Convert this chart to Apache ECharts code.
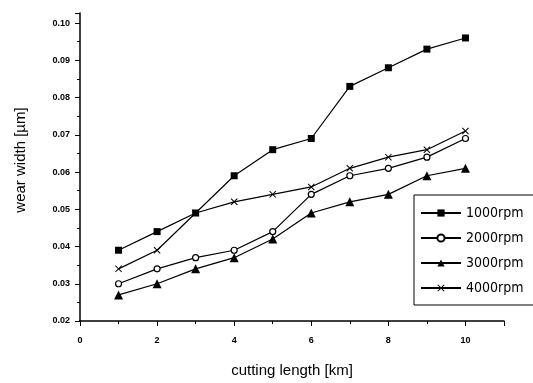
<!DOCTYPE html>
<html><head><meta charset="utf-8">
<script src="https://cdn.jsdelivr.net/npm/echarts@6/dist/echarts.min.js"></script>
<style>html,body{margin:0;padding:0;background:#fff}#c{width:533px;height:383px}</style>
</head><body><div id="c"></div>
<script>
var cuttingLength = [1, 2, 3, 4, 5, 6, 7, 8, 9, 10];
var rpm1000 = [0.039, 0.044, 0.049, 0.059, 0.066, 0.069, 0.083, 0.088, 0.093, 0.096];
var rpm2000 = [0.030, 0.034, 0.037, 0.039, 0.044, 0.054, 0.059, 0.061, 0.064, 0.069];
var rpm3000 = [0.027, 0.030, 0.034, 0.037, 0.042, 0.049, 0.052, 0.054, 0.059, 0.061];
var rpm4000 = [0.034, 0.039, 0.049, 0.052, 0.054, 0.056, 0.061, 0.064, 0.066, 0.071];
var seriesNames = ['1000rpm', '2000rpm', '3000rpm', '4000rpm'];

function pairs(ys){ return cuttingLength.map(function(x,i){ return [x, ys[i]]; }); }
var xPath = 'path://M0,1L1,0L5,4L9,0L10,1L6,5L10,9L9,10L5,6L1,10L0,9L4,5Z';
var symbols = ['rect', 'circle', 'triangle', xPath];
var sizes = [7, 6, 9, 7];
var datas = [rpm1000, rpm2000, rpm3000, rpm4000];

var chart = echarts.init(document.getElementById('c'), null, {renderer:'canvas'});
chart.setOption({
  animation: false,
  backgroundColor: '#fff',
  textStyle: {fontFamily: 'Liberation Sans'},
  grid: {left: 80, right: 29, top: 13, bottom: 61, containLabel: false},
  legend: {
    orient: 'vertical', left: 414, top: 195,
    width: 125, height: 112,
    padding: [11, 14, 10, 6], itemGap: 11,
    itemWidth: 40, itemHeight: 9,
    borderColor: '#000', borderWidth: 1,
    textStyle: {fontFamily: '"DejaVu Sans Condensed", "Liberation Sans"', fontSize: 14, color: '#000'},
    data: seriesNames
  },
  xAxis: {
    type: 'value', min: 0, max: 11, interval: 2,
    name: 'cutting length [km]', nameLocation: 'middle', nameGap: 42,
    nameTextStyle: {fontSize: 15, color: '#000'},
    axisLine: {lineStyle: {color: '#000', width: 1.5}},
    axisTick: {show: true, length: 5, lineStyle: {color: '#000'}},
    minorTick: {show: true, splitNumber: 2, length: 3, lineStyle: {color: '#000'}},
    axisLabel: {color: '#000', fontSize: 9, fontWeight: 'bold', margin: 15, showMaxLabel: false},
    splitLine: {show: false}
  },
  yAxis: {
    type: 'value', min: 0.02, max: 0.1027, interval: 0.01,
    name: 'wear width [\u00b5m]', nameLocation: 'middle', nameGap: 52,
    nameTextStyle: {fontSize: 15, color: '#000', padding: [0, 0, 0, 14]},
    axisLine: {show: true, lineStyle: {color: '#000', width: 1.5}},
    axisTick: {show: true, length: 5, lineStyle: {color: '#000'}},
    minorTick: {show: true, splitNumber: 2, length: 3, lineStyle: {color: '#000'}},
    axisLabel: {color: '#000', fontSize: 9, fontWeight: 'bold', margin: 10, showMaxLabel: false,
      formatter: function(v){ return v.toFixed(2); }},
    splitLine: {show: false}
  },
  series: seriesNames.map(function(n, i){
    return {
      name: n, type: 'line', data: pairs(datas[i]),
      symbol: symbols[i], symbolSize: sizes[i], showAllSymbol: true,
      lineStyle: {color: '#000', width: 1.2},
      itemStyle: {color: i === 1 ? '#fff' : '#000', borderColor: '#000', borderWidth: i === 1 ? 1.2 : 0}
    };
  })
});
</script></body></html>
